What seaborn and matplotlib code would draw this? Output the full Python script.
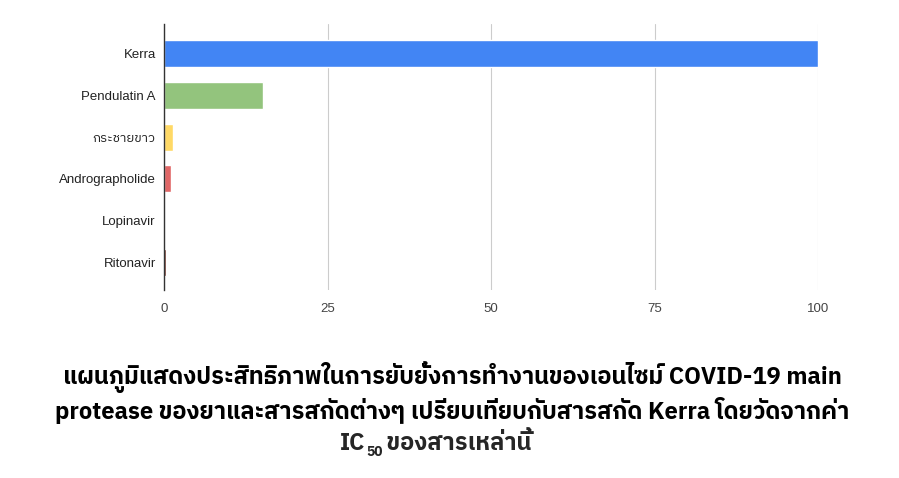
import matplotlib
matplotlib.use("Agg")
import matplotlib.pyplot as plt
from matplotlib import font_manager, ft2font
import seaborn as sns
import pandas as pd

categories = ["Kerra", "Pendulatin A", "กระชายขาว", "Andrographolide", "Lopinavir", "Ritonavir"]
values = [100, 15.1, 1.4, 1.1, 0.03, 0.3]
colors = ["#4285F4", "#93C47D", "#FFD966", "#E06666", "#A61C00", "#5B0F00"]
xticks = [0, 25, 50, 75, 100]

title_lines = ["แผนภูมิแสดงประสิทธิภาพในการยับยั้งการทำงานของเอนไซม์ COVID-19 main",
               "protease ของยาและสารสกัดต่างๆ เปรียบเทียบกับสารสกัด Kerra โดยวัดจากค่า"]
title_last = ("IC", "50", " ของสารเหล่านี้")

# find a font that has Thai glyphs
thai = None
for f in font_manager.fontManager.ttflist:
    try:
        if 0x0E01 in ft2font.FT2Font(f.fname).get_charmap():
            thai = f.name
            if "Noto" in f.name or "Sans" in f.name:
                break
    except Exception:
        pass
tick_fams = ["Liberation Sans", thai, "DejaVu Sans"] if thai else ["Liberation Sans", "DejaVu Sans"]
title_fams = [thai, "DejaVu Sans"] if thai else ["DejaVu Sans"]

sns.set_style("white")
plt.rcParams["font.family"] = tick_fams

df = pd.DataFrame({"name": categories, "value": values})

fig = plt.figure(figsize=(8.99, 4.78), dpi=100)
ax = fig.add_axes([0.1824, 0.393, 0.7276, 0.557])
sns.barplot(data=df, y="name", x="value", hue="name", palette=colors,
            orient="h", width=0.65, legend=False, ax=ax, saturation=1)

ax.set_xlim(0, 100)
ax.set_ylim(5.67, -0.72)
ax.set_xticks(xticks)
ax.set_xticklabels([str(t) for t in xticks])
ax.xaxis.grid(True, color="#cccccc", linewidth=0.8)
ax.set_axisbelow(True)
for s in ["top", "right", "bottom"]:
    ax.spines[s].set_visible(False)
ax.spines["left"].set_color("#333333")
ax.spines["left"].set_linewidth(1.0)
ax.spines["left"].set_zorder(5)
ax.tick_params(axis="y", length=0, labelsize=9.5, colors="#222222", pad=6)
ax.tick_params(axis="x", length=0, labelsize=9.5, colors="#444444", pad=9)
ax.set_xlabel("")
ax.set_ylabel("")

tsize = 17
line_y = [0.211, 0.142]
for txt, yy in zip(title_lines, line_y):
    fig.text(0.503, yy, txt, ha="center", va="center", family=title_fams,
             fontsize=tsize, fontweight="bold", color="black")

# last line with subscript
fig.canvas.draw()
r = fig.canvas.get_renderer()
base = 0.058
t1 = fig.text(0, base, title_last[0], fontsize=tsize, fontweight="bold",
              va="baseline", family=title_fams)
t2 = fig.text(0, base - 0.012, title_last[1], fontsize=tsize * 0.58, fontweight="bold",
              va="baseline", family=title_fams)
t3 = fig.text(0, base, title_last[2], fontsize=tsize, fontweight="bold",
              va="baseline", family=title_fams)
w = [t.get_window_extent(r).width / fig.bbox.width for t in (t1, t2, t3)]
x0 = 0.485 - sum(w) / 2
t1.set_x(x0)
t2.set_x(x0 + w[0] + 0.001)
t3.set_x(x0 + w[0] + w[1] - 0.001)

fig.savefig("out.png", dpi=100)
